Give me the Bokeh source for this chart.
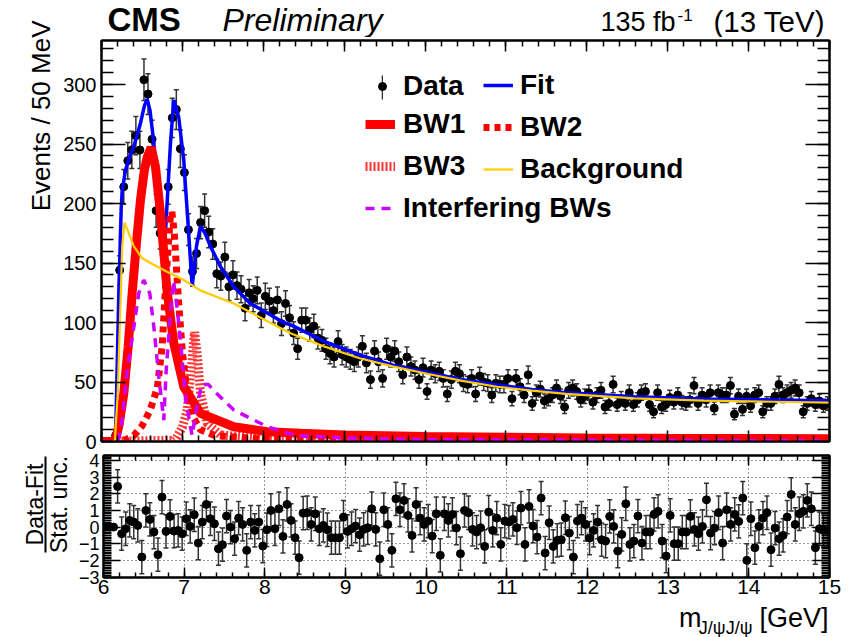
import numpy as np
from bokeh.plotting import figure
from bokeh.layouts import column, row
from bokeh.models import (LinearAxis, SingleIntervalTicker, CustomJSTickFormatter,
                          Label, Legend, LegendItem, Range1d, BoxAnnotation)
from bokeh.embed import file_html
from bokeh.resources import INLINE

FONT = "Liberation Sans"

# ---------------- data ----------------
bin_low = 6.0
bin_width = 0.05

counts = [
    0, 0, 0, 5, 144, 214, 236, 245, 257, 245,
    304, 292, 254, 194, 175, 157, 214, 272, 279, 246,
    226, 178, 143, 158, 184, 194, 176, 166, 141, 139,
    155, 130, 140, 131, 128, 112, 125, 120, 127, 106,
    122, 118, 110, 119, 99, 116, 104, 91, 78, 102,
    102, 94, 97, 87, 85, 78, 74, 71, 84, 73,
    71, 69, 67, 71, 80, 66, 52, 76, 67, 53,
    78, 71, 76, 67, 56, 71, 63, 60, 52, 62,
    42, 60, 57, 59, 53, 40, 52, 59, 57, 49,
    48, 53, 40, 55, 50, 49, 39, 49, 48, 48,
    53, 36, 53, 46, 39, 56, 32, 41, 44, 34,
    36, 39, 45, 38, 29, 43, 45, 42, 35, 38,
    41, 33, 39, 43, 29, 32, 48, 31, 36, 32,
    41, 31, 35, 41, 42, 31, 25, 41, 29, 31,
    37, 33, 39, 33, 32, 35, 47, 32, 39, 35,
    41, 28, 41, 39, 39, 47, 23, 38, 27, 38,
    30, 39, 41, 25, 32, 32, 38, 48, 39, 41,
    43, 45, 41, 25, 32, 36, 31, 34, 30, 32,
]

pulls = [
    0, 0, 0, 2.44, -0.4, -0.1, 0.4, 0.3, 0.1, -1.8,
    1.0, 0.46, -0.3, -1.66, 1.8, -0.26, 0.64, -0.24, -0.2, -0.4,
    0.5, 0.04, 0.74, -0.96, 0.3, 1.36, 0.5, 0.2, -1.3, -1.06,
    0.66, 0.0, -0.7, 0.54, 0.16, -1.4, 0.3, -0.2, 0.3, -1.14,
    -0.16, 1.0, -0.1, 1.1, -0.56, 1.36, 0.4, -0.64, -1.84, 0.84,
    0.86, 0.16, 0.8, -0.1, 0.1, -0.16, -0.64, -0.64, -0.64, 0.6,
    -0.26, -0.1, 0.06, -0.46, -0.14, -0.04, 1.1, -0.14, -1.9, 1.04,
    0.16, -1.4, 1.7, 1.04, 1.6, 0.7, -0.5, 1.36, 0.54, 0.16,
    0.36, -0.54, 0.8, -1.7, 0.8, 0.4, 0.76, -0.06, -1.6, 1.0,
    0.86, -0.14, -0.3, -0.04, -1.16, 0.9, -0.2, 0.54, -1.04, 0.36,
    0.3, 0.46, -0.04, 1.14, -1.04, 1.24, 0.06, -0.6, 1.74, -1.56,
    0.26, -1.16, -0.8, -0.76, 0.56, -0.36, -1.8, 0.36, 0.54, 0.16,
    -0.66, -0.2, 0.3, -0.76, -0.84, 0.64, 0.04, -1.44, -0.44, 1.4,
    -1.04, -0.84, 0.66, -0.96, -0.3, -0.3, 0.76, 0.94, -0.84, -1.74,
    0.7, -1.0, -1.0, -0.3, -0.3, 0.64, -0.14, -0.4, 0.04, 1.64,
    -0.36, -0.06, 0.86, -0.96, 1.04, 0.16, 0.76, 0.34, 1.74, -2.0,
    0.5, -1.24, 0.04, 0.54, 0.86, -1.36, -0.06, -0.7, -0.5, 0.6,
    1.96, 0.16, 0.8, 0.94, 1.6, 1.1, -1.24, -0.1, -0.2, -0.2,
]

fit_x = [6.00, 6.16, 6.175, 6.214, 6.243, 6.256, 6.297, 6.35, 6.40, 6.48, 6.53, 6.565,
         6.60, 6.647, 6.70, 6.75, 6.79, 6.853, 6.894, 6.956, 7.017, 7.067, 7.121, 7.174,
         7.224, 7.28, 7.347, 7.47, 7.635, 7.84, 8.05, 8.25, 8.34, 8.76, 9.19, 9.61, 10.04,
         10.46, 10.89, 11.32, 11.74, 12.59, 13.45, 14.30, 15.00]
fit_y = [0, 0, 5, 125, 195, 211, 228, 240, 248, 267, 282, 288,
         278, 251, 200, 165, 175, 251, 287, 272, 236, 186, 130, 164,
         181, 175, 164, 147, 130, 116, 108, 100, 98, 84, 72.7, 64, 57.8,
         52, 47.5, 43.8, 41, 37.6, 35.7, 34.9, 34.3]

bkg_x = [6.00, 6.165, 6.20, 6.226, 6.256, 6.284, 6.32, 6.40, 6.503, 6.606, 6.81, 7.017,
         7.22, 7.635, 8.05, 8.336, 8.76, 9.19, 9.61, 10.04, 10.46, 10.89, 11.32, 11.74,
         12.59, 13.45, 14.30, 15.00]
bkg_y = [0, 0, 40, 96, 164, 184, 178, 164, 154, 150, 142.7, 135.7,
         127, 116, 101, 91, 79.7, 70, 62.9, 56.7, 51, 46, 42.7, 40,
         36.3, 34.3, 33.4, 32.6]

bw1_x = [6.00, 6.17, 6.22, 6.276, 6.33, 6.379, 6.43, 6.482, 6.53, 6.565, 6.614, 6.667,
         6.729, 6.81, 6.894, 7.017, 7.224, 7.635, 8.05, 8.46, 9.0, 10.0, 11.0, 12.0,
         13.0, 14.0, 15.0]
bw1_y = [0, 0, 15, 40.5, 80, 124.5, 165, 203, 228, 239, 247, 231,
         192, 127, 82.5, 46, 23.7, 12.4, 8.2, 6.9, 5.5, 4.2, 3.5, 3.0,
         2.7, 2.5, 2.3]

bw2_x = [6.00, 6.20, 6.30, 6.40, 6.50, 6.60, 6.69, 6.75, 6.80, 6.85, 6.87, 6.90,
         6.95, 7.00, 7.05, 7.12, 7.22, 7.40, 8.00, 9.00, 11.0, 15.0]
bw2_y = [0, 0.5, 1.5, 5, 13, 26, 45, 80, 140, 188, 193, 175,
         120, 75, 45, 22, 10, 5, 2, 1.2, 0.8, 0.5]

bw3_x = [6.00, 6.90, 6.935, 7.00, 7.06, 7.12, 7.15, 7.19, 7.224, 7.307, 7.47, 8.00, 9.00, 15.0]
bw3_y = [0, 1, 4, 12, 26.5, 68.5, 92, 68.5, 40.5, 15, 5.5, 2.5, 1.5, 0.5]

int_x = [6.00, 6.20, 6.25, 6.32, 6.40, 6.46, 6.523, 6.597, 6.647, 6.708, 6.77, 6.80,
         6.85, 6.89, 6.93, 6.98, 7.04, 7.12, 7.18, 7.24, 7.32, 7.40, 7.635, 7.84,
         8.05, 8.40, 9.00, 10.0, 15.0]
int_y = [0, 0, 15, 60, 96.5, 124.5, 135.7, 124.5, 96.5, 54.5, 18, 60,
         105, 135, 115, 83, 35, 5, 30, 48, 48, 42, 26.5, 19.5,
         12.4, 5, 3, 1.5, 0.5]

x_ticks_interval = 1
y_ticks_interval = 50

# ---------------- derived ----------------
cnt = np.array(counts, dtype=float)
centers = bin_low + bin_width * (np.arange(len(cnt)) + 0.5)
err = np.sqrt(cnt)
nz = cnt > 0
pl = np.array(pulls, dtype=float)
perr = np.where(nz, 1.0, 0.0)

EMPTY = CustomJSTickFormatter(code="return ''")
MINUS = CustomJSTickFormatter(code="return tick < 0 ? '\u2212' + Math.abs(tick) : '' + tick")


def style_axis(ax, maj, mnr, labels=True, size="20px", standoff=5):
    ax.major_tick_in = maj
    ax.major_tick_out = 0
    ax.minor_tick_in = mnr
    ax.minor_tick_out = 0
    ax.axis_line_width = 2
    ax.axis_line_color = "black"
    ax.major_tick_line_width = 1.5
    ax.minor_tick_line_width = 1.5
    ax.major_tick_line_color = "black"
    ax.minor_tick_line_color = "black"
    ax.major_label_text_font = FONT
    ax.major_label_text_color = "black"
    if labels:
        ax.major_label_text_font_size = size
        ax.major_label_standoff = standoff
    else:
        ax.formatter = EMPTY
        ax.major_label_text_font_size = "1px"
        ax.major_label_standoff = 0


def blank(w, h, bl=0, br=0):
    # frame spans (w - bl - br) x h, data units = pixels inside the frame
    f = figure(width=w, height=h, x_range=Range1d(0, w - bl - br), y_range=Range1d(0, h),
               x_axis_location=None, y_axis_location=None, min_border=0,
               min_border_left=bl, min_border_right=br,
               output_backend="svg", toolbar_location=None)
    f.outline_line_color = None
    f.grid.visible = False
    f.background_fill_color = "white"
    f.border_fill_color = "white"
    return f


def txt(f, x, y, s, size, style="normal", align="left", angle=0.0):
    # (x, y) is the centre line of the text box
    f.add_layout(Label(x=x, y=y, text=s, text_font=FONT, text_font_size=size,
                       text_font_style=style, text_color="black", text_align=align,
                       text_baseline="middle", angle=angle))


xr = Range1d(6, 15)

# ---------------- main panel (page x 56..851, y 37..451; frame 101..829 x 40..441) --------
p = figure(width=795, height=414, x_range=xr, y_range=Range1d(0, 337),
           output_backend="svg", toolbar_location=None,
           min_border_left=45, min_border_right=22, min_border_top=3, min_border_bottom=10)
p.outline_line_color = "black"
p.outline_line_width = 2
p.grid.visible = False
p.background_fill_color = "white"
p.border_fill_color = "white"

p.xaxis.ticker = SingleIntervalTicker(interval=x_ticks_interval, num_minor_ticks=5)
style_axis(p.xaxis[0], 11, 6, labels=False)
p.yaxis.ticker = SingleIntervalTicker(interval=y_ticks_interval, num_minor_ticks=5)
style_axis(p.yaxis[0], 24, 12, labels=True, size="20px", standoff=5)

ax_top = LinearAxis(ticker=SingleIntervalTicker(interval=x_ticks_interval, num_minor_ticks=5))
style_axis(ax_top, 11, 6, labels=False)
p.add_layout(ax_top, "above")
ax_right = LinearAxis(ticker=SingleIntervalTicker(interval=y_ticks_interval, num_minor_ticks=5))
style_axis(ax_right, 24, 12, labels=False)
p.add_layout(ax_right, "right")

# data
p.segment(x0=centers[nz], y0=(cnt - err)[nz], x1=centers[nz], y1=(cnt + err)[nz],
          line_color="#333333", line_width=1.5)
p.scatter(x=centers[nz], y=(cnt + err)[nz], marker="dash", size=5, line_color="#333333", line_width=1.5)
p.scatter(x=centers[nz], y=(cnt - err)[nz], marker="dash", size=5, line_color="#333333", line_width=1.5)
r_data = p.scatter(x=centers, y=cnt, size=8, color="black")

r_fit = p.line(fit_x, fit_y, line_color="#0000ff", line_width=3.5)
r_bw1 = p.line(bw1_x, bw1_y, line_color="#ff0000", line_width=9)
r_bw2 = p.line(bw2_x, bw2_y, line_color="#ff0000", line_width=7, line_dash="6 5")
r_bw3 = p.line(bw3_x, bw3_y, line_color="#ff0000", line_width=9, line_dash="2 2", line_alpha=0.8)
r_bkg = p.line(bkg_x, bkg_y, line_color="#ffcc00", line_width=2.2)
r_int = p.line(int_x, int_y, line_color="#cc00ff", line_width=3.5, line_dash="9 7")

r_bar = p.vbar(x=[np.nan], top=[np.nan], width=0.01, fill_color="#333333", line_color=None)


def make_legend(items, loc, gw, gh, standoff):
    lg = Legend(items=items, location=loc)
    lg.label_text_font = FONT
    lg.label_text_font_style = "bold"
    lg.label_text_font_size = "28px"
    lg.label_text_color = "black"
    lg.glyph_width = gw
    lg.glyph_height = gh
    lg.label_height = 30
    lg.spacing = 10
    lg.padding = 0
    lg.margin = 0
    lg.label_standoff = standoff
    lg.border_line_color = None
    lg.background_fill_alpha = 0
    return lg


leg0b = make_legend([LegendItem(label=" ", renderers=[r_bar])], (280, 339), 2, 30, 0)
leg0 = make_legend([LegendItem(label="Data", renderers=[r_data])], (271, 339), 20, 20, 11)
leg1 = make_legend([LegendItem(label="BW1", renderers=[r_bw1]),
                    LegendItem(label="BW3", renderers=[r_bw3]),
                    LegendItem(label="Interfering BWs", renderers=[r_int])], (264, 217), 30, 30, 8)
leg2 = make_legend([LegendItem(label="Fit", renderers=[r_fit]),
                    LegendItem(label="BW2", renderers=[r_bw2]),
                    LegendItem(label="Background", renderers=[r_bkg])], (382, 256), 30, 30, 7)
for lg in (leg0b, leg0, leg1, leg2):
    p.add_layout(lg)

# ---------------- header (page x 56..851, y 0..37); frame from page x 101; y = 37 - page_y ---
head = blank(795, 37, bl=45, br=22)
txt(head, 6, 18.5, "CMS", "33px", style="bold")
txt(head, 121, 17.2, "Preliminary", "32px", style="italic")
txt(head, 574, 15.8, "135 fb", "27px", align="right")
txt(head, 576, 23, "-1", "17px")
txt(head, 612, 16.3, "(13 TeV)", "29.5px")

# ---------------- left strip for main panel (page x 0..56, y 0..451), y = 451 - page_y ------
left1 = blank(56, 451)
txt(left1, 40.9, 431, "Events / 50 MeV", "26px", align="right", angle=np.pi / 2)

# ---------------- pull panel (page x 75..851, y 451..603; frame 101..829 x 455..577) ------
q = figure(width=776, height=152, x_range=xr, y_range=Range1d(-3.03, 4.3),
           output_backend="svg", toolbar_location=None,
           min_border_left=26, min_border_right=22, min_border_top=4, min_border_bottom=26)
q.outline_line_color = "black"
q.outline_line_width = 2
q.background_fill_color = "white"
q.border_fill_color = "white"

q.xaxis.ticker = SingleIntervalTicker(interval=1, num_minor_ticks=5)
style_axis(q.xaxis[0], 10, 5, labels=True, size="21px", standoff=2)
q.yaxis.ticker = SingleIntervalTicker(interval=1, num_minor_ticks=10)
q.yaxis.formatter = MINUS
style_axis(q.yaxis[0], 17, 8, labels=True, size="18px", standoff=4)
qa_top = LinearAxis(ticker=SingleIntervalTicker(interval=1, num_minor_ticks=5))
style_axis(qa_top, 10, 5, labels=False)
q.add_layout(qa_top, "above")
qa_right = LinearAxis(ticker=SingleIntervalTicker(interval=1, num_minor_ticks=10))
style_axis(qa_right, 17, 8, labels=False)
q.add_layout(qa_right, "right")

q.grid.grid_line_color = "black"
q.grid.grid_line_alpha = 0.8
q.grid.grid_line_dash = "1 3"
q.grid.grid_line_width = 1

q.segment(x0=centers[nz], y0=(pl - perr)[nz], x1=centers[nz], y1=(pl + perr)[nz],
          line_color="#333333", line_width=1.5)
q.scatter(x=centers[nz], y=(pl + perr)[nz], marker="dash", size=5, line_color="#333333", line_width=1.5)
q.scatter(x=centers[nz], y=(pl - perr)[nz], marker="dash", size=5, line_color="#333333", line_width=1.5)
q.scatter(x=centers, y=pl, size=8, color="black")

# ---------------- left strip for pull panel (page x 0..75, y 451..637), y = 637 - page_y ----
left2 = blank(75, 186)
txt(left2, 34, 133, "Data-Fit", "23px", align="center", angle=np.pi / 2)
txt(left2, 58, 133, "Stat. unc.", "23px", align="center", angle=np.pi / 2)
left2.add_layout(BoxAnnotation(left=44, right=46, bottom=85, top=181,
                               fill_color="black", fill_alpha=1, line_color=None))

# ---------------- footer (page x 75..851, y 603..637); frame from page x 101 ----------------
foot = blank(776, 34, bl=26, br=22)
txt(foot, 577, 19.5, "m", "27px")
txt(foot, 597, 10, "J/\u03c8J/\u03c8", "18px")
txt(foot, 727, 19.5, "[GeV]", "27px", align="right")

layout = column(
    row(left1, column(head, p)),
    row(left2, column(q, foot)),
)
open("out.html", "w").write(file_html(layout, INLINE))
